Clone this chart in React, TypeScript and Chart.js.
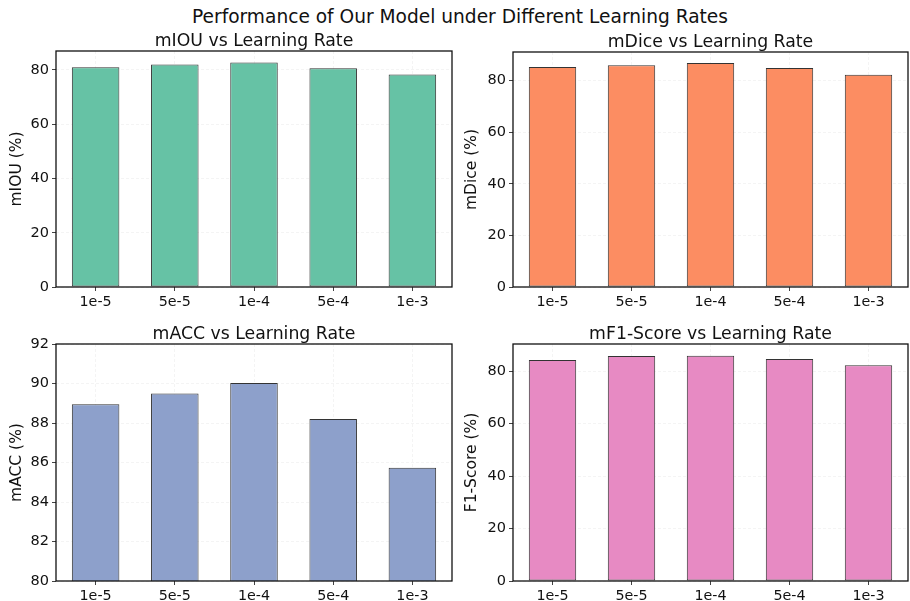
import React, { useEffect, useRef } from "react";
import { Chart, registerables } from "chart.js";

Chart.register(...registerables);

const learningRates = ["1e-5", "5e-5", "1e-4", "5e-4", "1e-3"];
const miouValues = [81.0, 82.0, 82.8, 80.6, 78.3];
const mdiceValues = [85.3, 86.0, 86.8, 84.9, 82.3];
const maccValues = [88.95, 89.5, 90.03, 88.2, 85.74];
const f1Values = [84.2, 85.7, 85.85, 84.6, 82.2];

const suptitle = "Performance of Our Model under Different Learning Rates";
const panelTitles = [
  "mIOU vs Learning Rate",
  "mDice vs Learning Rate",
  "mACC vs Learning Rate",
  "mF1-Score vs Learning Rate",
];
const yLabels = ["mIOU (%)", "mDice (%)", "mACC (%)", "F1-Score (%)"];
const yRanges = [
  [0, 87, 20],
  [0, 91.1, 20],
  [80, 92, 2],
  [0, 90.3, 20],
];
const colors = ["#66c2a5", "#fc8d62", "#8da0cb", "#e78ac3"];
const seriesList = [miouValues, mdiceValues, maccValues, f1Values];

const FONT = "'DejaVu Sans', sans-serif";
const TEXT = "#111";

type Box = { left: number; top: number; w: number; h: number; cl: number; ct: number; cr: number; cb: number };

const boxes: Box[] = [
  { left: 0, top: 0, w: 455, h: 312, cl: 56, ct: 51, cr: 452, cb: 287 },
  { left: 455, top: 0, w: 455, h: 312, cl: 58, ct: 52, cr: 453, cb: 287 },
  { left: 0, top: 298, w: 455, h: 303, cl: 56, ct: 46, cr: 452, cb: 283 },
  { left: 455, top: 298, w: 455, h: 303, cl: 58, ct: 46, cr: 453, cb: 283 },
];

function Panel({ idx }: { idx: number }) {
  const ref = useRef<HTMLCanvasElement | null>(null);
  useEffect(() => {
    const b = boxes[idx];
    const [ymin, ymax, step] = yRanges[idx];
    const framePlugin = {
      id: "frame" + idx,
      afterDraw(chart: any) {
        const { ctx, chartArea } = chart;
        ctx.save();
        ctx.strokeStyle = "#111";
        ctx.lineWidth = 1.3;
        ctx.strokeRect(chartArea.left, chartArea.top, chartArea.right - chartArea.left, chartArea.bottom - chartArea.top);
        ctx.fillStyle = TEXT;
        ctx.font = "17.3px " + FONT;
        ctx.textAlign = "center";
        ctx.textBaseline = "alphabetic";
        ctx.fillText(panelTitles[idx], (chartArea.left + chartArea.right) / 2, chartArea.top - 5);
        ctx.restore();
      },
    };
    const chart = new Chart(ref.current as HTMLCanvasElement, {
      type: "bar",
      data: {
        labels: learningRates,
        datasets: [
          {
            data: seriesList[idx],
            backgroundColor: colors[idx],
            borderColor: "#333",
            borderWidth: 1,
            borderSkipped: false,
            barPercentage: 0.6,
            categoryPercentage: 1,
          },
        ],
      },
      options: {
        animation: false,
        responsive: false,
        maintainAspectRatio: false,
        layout: { padding: { left: 0, top: b.ct, right: b.w - b.cr, bottom: 0 } },
        plugins: { legend: { display: false }, tooltip: { enabled: false }, title: { display: false } },
        scales: {
          x: {
            grid: {
              offset: false,
              color: "rgba(190,190,190,0.22)",
              tickColor: "#111",
              tickLength: 4,
              lineWidth: 0.8,
            },
            border: { display: false, dash: [3, 2] },
            ticks: { color: TEXT, font: { family: FONT, size: 14.3 }, padding: 3, maxRotation: 0 },
            afterFit: (s: any) => {
              s.height = b.h - b.cb;
            },
          },
          y: {
            min: ymin,
            max: ymax,
            grid: {
              color: "rgba(190,190,190,0.22)",
              tickColor: "#111",
              tickLength: 4,
              lineWidth: 0.8,
            },
            border: { display: false, dash: [3, 2] },
            ticks: { stepSize: step, color: TEXT, font: { family: FONT, size: 14.5 }, padding: 3 },
            afterBuildTicks: (s: any) => {
              s.ticks = s.ticks.filter((t: any) => Math.abs((t.value - ymin) / step - Math.round((t.value - ymin) / step)) < 1e-6);
            },
            title: {
              display: true,
              text: yLabels[idx],
              color: TEXT,
              font: { family: FONT, size: 15.5 },
              padding: { top: 8, bottom: 0 },
            },
            afterFit: (s: any) => {
              s.width = b.cl;
            },
          },
        },
      },
      plugins: [framePlugin],
    });
    return () => chart.destroy();
  }, [idx]);
  const b = boxes[idx];
  return (
    <canvas
      ref={ref}
      width={b.w}
      height={b.h}
      style={{ position: "absolute", left: b.left, top: b.top, width: b.w, height: b.h }}
    />
  );
}

export default function App() {
  return (
    <div style={{ position: "absolute", left: 0, top: 0, width: 910, height: 601, background: "#fff", overflow: "hidden" }}>
      <div
        style={{
          position: "absolute",
          left: 0,
          width: 920,
          top: 5,
          textAlign: "center",
          fontFamily: FONT,
          fontSize: 18.6,
          lineHeight: "24px",
          color: TEXT,
          whiteSpace: "nowrap",
        }}
      >
        {suptitle}
      </div>
      {[0, 1, 2, 3].map((i) => (
        <Panel key={i} idx={i} />
      ))}
    </div>
  );
}
